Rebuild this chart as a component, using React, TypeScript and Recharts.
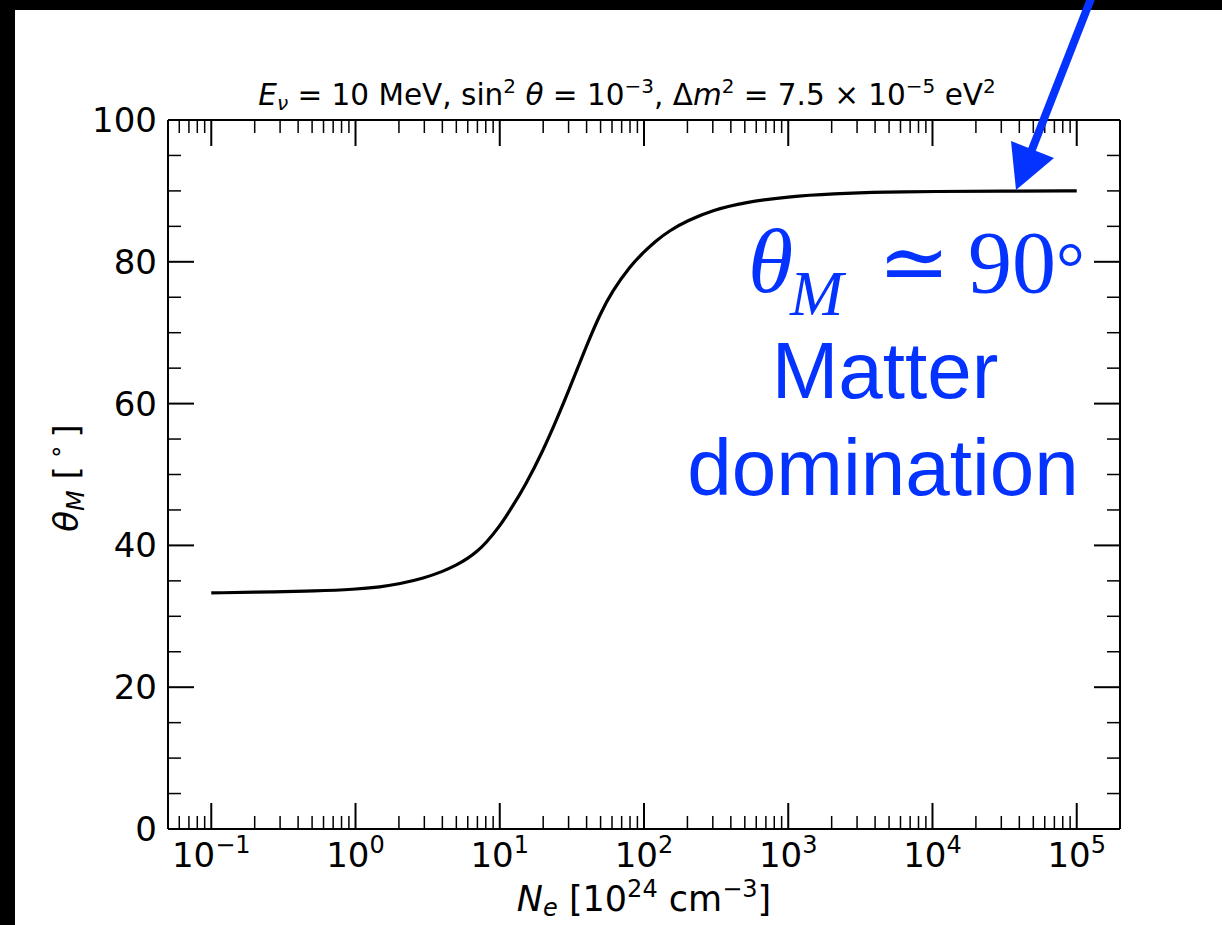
import React from 'react';
import { LineChart, Line, XAxis, YAxis } from 'recharts';

// electron density [10^24 cm^-3] and matter mixing angle [deg]
const N_E = [0.1, 0.3, 0.5, 1, 1.5, 2, 3, 4, 5, 6, 7, 8, 10, 12, 15, 20, 25, 30, 35, 40, 50, 60, 80, 100, 120, 150, 200, 300, 500, 1000, 2000, 5000, 10000, 30000, 100000];
const THETA_M = [33.3, 33.45, 33.55, 33.8, 34.15, 34.55, 35.4, 36.3, 37.2, 38.15, 39.2, 40.3, 42.7, 45.2, 48.4, 53.4, 57.9, 61.8, 65.2, 68.2, 72.8, 75.8, 79.4, 81.4, 82.9, 84.4, 85.8, 87.3, 88.4, 89.2, 89.6, 89.85, 89.92, 89.97, 90.0];

const DECADES = [0.01, 0.1, 1, 10, 100, 1000, 10000, 100000];
const SUBS = [1, 2, 3, 4, 5, 6, 7, 8, 9];
const Y_TICKS = [0, 5, 10, 15, 20, 25, 30, 35, 40, 45, 50, 55, 60, 65, 70, 75, 80, 85, 90, 95, 100];
const Y_MAJOR = [0, 20, 40, 60, 80, 100];

const X_DOMAIN = [Math.pow(10, -1.3), Math.pow(10, 5.3)];
const X_TICKS = DECADES.flatMap((d) => SUBS.map((s) => s * d)).filter((v) => v >= X_DOMAIN[0] && v <= X_DOMAIN[1]);

const data = N_E.map((n, i) => ({ n, theta: THETA_M[i] }));

const FONT = '"DejaVu Sans", sans-serif';
const BLUE = '#0433ff';

const isMajorX = (v: number) => Math.abs(Math.log10(v) - Math.round(Math.log10(v))) < 1e-6;

const XTick = (props: any) => {
    const { x, y, payload, side } = props;
    const v = payload.value;
    const major = isMajorX(v);
    const len = major ? 26 : 13;
    const dir = side === 'bottom' ? -1 : 1;
    const e = Math.round(Math.log10(v));
    return (
        <g>
            <line x1={x} x2={x} y1={y} y2={y + dir * len} stroke="#000" strokeWidth={major ? 2 : 1.5} />
            {side === 'bottom' && major && (
                <text x={x} y={y + 38} textAnchor="middle" fontSize={34} fontFamily={FONT} fill="#000">
                    10
                    <tspan dy={-14} fontSize={24}>{e < 0 ? '\u2212' + Math.abs(e) : String(e)}</tspan>
                </text>
            )}
        </g>
    );
};

const YTick = (props: any) => {
    const { x, y, payload, side } = props;
    const v = payload.value;
    const major = Y_MAJOR.includes(v);
    const len = major ? 26 : 13;
    const dir = side === 'left' ? 1 : -1;
    return (
        <g>
            <line x1={x} x2={x + dir * len} y1={y} y2={y} stroke="#000" strokeWidth={major ? 2 : 1.5} />
            {side === 'left' && major && (
                <text x={x - 11} y={y + 12} textAnchor="end" fontSize={34} fontFamily={FONT} fill="#000">
                    {v}
                </text>
            )}
        </g>
    );
};

export default function App() {
    return (
        <div style={{ position: 'absolute', left: 0, top: 0, width: 1222, height: 925, background: '#000', overflow: 'hidden' }}>
            <div style={{ position: 'absolute', left: 15, top: 10, right: 0, bottom: 0, background: '#fff' }} />
            <div style={{ position: 'absolute', left: 0, top: 0 }}>
                <LineChart width={1222} height={925} data={data} margin={{ top: 110, right: 92, bottom: 36, left: 88 }}>
                    <XAxis
                        dataKey="n"
                        type="number"
                        scale="log"
                        domain={X_DOMAIN}
                        allowDataOverflow
                        ticks={X_TICKS}
                        interval={0}
                        height={60}
                        tickSize={0}
                        tickMargin={0}
                        axisLine={{ stroke: '#000', strokeWidth: 2 }}
                        tick={(p: any) => <XTick {...p} side="bottom" />}
                    />
                    <XAxis
                        xAxisId="top"
                        orientation="top"
                        dataKey="n"
                        type="number"
                        scale="log"
                        domain={X_DOMAIN}
                        allowDataOverflow
                        ticks={X_TICKS}
                        interval={0}
                        height={10}
                        tickSize={0}
                        tickMargin={0}
                        axisLine={{ stroke: '#000', strokeWidth: 2 }}
                        tick={(p: any) => <XTick {...p} side="top" />}
                    />
                    <YAxis
                        type="number"
                        domain={[0, 100]}
                        allowDataOverflow
                        ticks={Y_TICKS}
                        interval={0}
                        width={80}
                        tickSize={0}
                        tickMargin={0}
                        axisLine={{ stroke: '#000', strokeWidth: 2 }}
                        tick={(p: any) => <YTick {...p} side="left" />}
                    />
                    <YAxis
                        yAxisId="right"
                        orientation="right"
                        type="number"
                        domain={[0, 100]}
                        allowDataOverflow
                        ticks={Y_TICKS}
                        interval={0}
                        width={10}
                        tickSize={0}
                        tickMargin={0}
                        axisLine={{ stroke: '#000', strokeWidth: 2 }}
                        tick={(p: any) => <YTick {...p} side="right" />}
                    />
                    <Line
                        dataKey="theta"
                        type="basis"
                        stroke="#000"
                        strokeWidth={3.2}
                        dot={false}
                        activeDot={false}
                        isAnimationActive={false}
                    />
                </LineChart>
            </div>
            <svg
                width={1222}
                height={925}
                style={{ position: 'absolute', left: 0, top: 0, pointerEvents: 'none' }}
            >
                {/* title */}
                <text x={627} y={105} textAnchor="middle" fontSize={29.5} fontFamily={FONT} fill="#000">
                    <tspan fontStyle="italic">E</tspan>
                    <tspan fontStyle="italic" fontSize={20} dy={5}>ν</tspan>
                    <tspan dy={-5}>{' = 10 MeV, sin'}</tspan>
                    <tspan fontSize={20} dy={-12}>2</tspan>
                    <tspan dy={12} fontStyle="italic">{' θ'}</tspan>
                    <tspan>{' = 10'}</tspan>
                    <tspan fontSize={20} dy={-12}>{'\u22123'}</tspan>
                    <tspan dy={12}>{', Δ'}</tspan>
                    <tspan fontStyle="italic">m</tspan>
                    <tspan fontSize={20} dy={-12}>2</tspan>
                    <tspan dy={12}>{' = 7.5 × 10'}</tspan>
                    <tspan fontSize={20} dy={-12}>{'\u22125'}</tspan>
                    <tspan dy={12}>{' eV'}</tspan>
                    <tspan fontSize={20} dy={-12}>2</tspan>
                </text>

                {/* axis labels */}
                <text x={644} y={911} textAnchor="middle" fontSize={35} fontFamily={FONT} fill="#000">
                    <tspan fontStyle="italic">N</tspan>
                    <tspan fontStyle="italic" fontSize={24} dy={5}>e</tspan>
                    <tspan dy={-5}>{' [10'}</tspan>
                    <tspan fontSize={24} dy={-14}>24</tspan>
                    <tspan dy={14}>{' cm'}</tspan>
                    <tspan fontSize={24} dy={-14}>{'\u22123'}</tspan>
                    <tspan dy={14}>]</tspan>
                </text>
                <text transform="translate(78,478) rotate(-90)" textAnchor="middle" fontSize={34} fontFamily={FONT} fill="#000">
                    <tspan fontStyle="italic">θ</tspan>
                    <tspan fontStyle="italic" fontSize={24} dy={6}>M</tspan>
                    <tspan dy={-6}>{' [\u2009'}</tspan>
                    <tspan fontSize={24} dy={-14}>∘</tspan>
                    <tspan dy={14}>{'\u2009]'}</tspan>
                </text>

                {/* annotation */}
                <line x1={1092} y1={-4} x2={1031} y2={152} stroke={BLUE} strokeWidth={8} />
                <polygon points="1016,190 1011,141 1054,158" fill={BLUE} />

                <text x={748} y={292} fontSize={92} fontStyle="italic" fontFamily='"Liberation Serif", serif' fill={BLUE}>θ</text>
                <text x={790} y={315} fontSize={64} fontStyle="italic" fontFamily='"Liberation Serif", serif' fill={BLUE}>M</text>
                <text x={878} y={292} fontSize={86} fontFamily='"Liberation Serif", "DejaVu Serif", serif' fill={BLUE}>≃</text>
                <text x={968} y={292} fontSize={88} fontFamily='"Liberation Serif", serif' fill={BLUE}>
                    90<tspan fontSize={72}>°</tspan>
                </text>

                <text x={885} y={398} textAnchor="middle" fontSize={80} fontFamily='"Liberation Sans", Arial, sans-serif' fill={BLUE}>Matter</text>
                <text x={883} y={495} textAnchor="middle" fontSize={80} fontFamily='"Liberation Sans", Arial, sans-serif' fill={BLUE}>domination</text>
            </svg>
        </div>
    );
}
